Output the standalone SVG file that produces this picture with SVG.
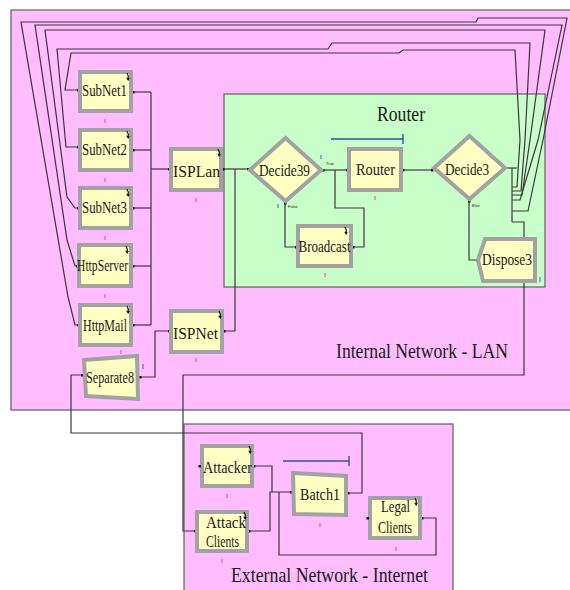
<svg xmlns="http://www.w3.org/2000/svg" xmlns:xlink="http://www.w3.org/1999/xlink" width="570" height="590" viewBox="0 0 570 590">
<style>
.region{stroke:#6a6a6a;stroke-width:1.3}
.pink{fill:#ffbdff}
.green{fill:#c8ffc8}
.mod{fill:#ffffc4;stroke:#a2a2a2;stroke-width:4}
.lbl{font-family:"Liberation Serif","Times New Roman",serif;font-size:17px;fill:#1a1a1a;text-anchor:middle}
.big{font-family:"Liberation Serif","Times New Roman",serif;font-size:21px;fill:#1a1a1a}
.tiny{font-family:"Liberation Sans",Arial,sans-serif;font-size:4px;fill:#222}
.rt{stroke:#e05070;stroke-width:1}
.bt{stroke:#4060c0;stroke-width:1}
.pt{fill:#111}
.conn path{fill:none;stroke:#3e3440;stroke-width:1.2}
.conn .s{marker-start:url(#dot)}
.conn .e{marker-end:url(#dot)}
.conn .se{marker-start:url(#dot);marker-end:url(#dot)}
.blue{fill:none;stroke:#3050a8;stroke-width:1.4}
</style>
<defs>
<marker id="dot" viewBox="0 0 4 4" refX="2" refY="2" markerWidth="3" markerHeight="3" markerUnits="userSpaceOnUse"><rect width="4" height="4" fill="#111"/></marker>
<g id="ico"><path d="M0,0 Q2,3 1.2,6.5" fill="none" stroke="#111" stroke-width="1.2"/><path d="M-0.8,4.8 L1.2,8 L2.8,5 Z" fill="#111"/></g>
</defs>
<rect width="570" height="590" fill="#ffffff"/>
<g id="lan-region"><rect class="region pink" x="11" y="10" width="570" height="400"/>
<text class="big" x="336" y="358" textLength="172" lengthAdjust="spacingAndGlyphs">Internal Network - LAN</text></g>
<g id="router-region"><rect class="region green" x="224" y="94" width="321" height="193"/>
<text class="big" x="377" y="121" font-size="22" textLength="48" lengthAdjust="spacingAndGlyphs">Router</text></g>
<g id="internet-region"><rect class="region pink" x="184" y="424" width="269" height="180"/>
<text class="big" x="231" y="582" textLength="197" lengthAdjust="spacingAndGlyphs">External Network - Internet</text></g>

<g id="connectors" class="conn">
<path class="s" d="M133,92 H151"/><path class="s" d="M133,150 H151"/><path class="s" d="M133,208 H151"/><path class="s" d="M133,266 H151"/><path class="s" d="M133,325 H151"/>
<path d="M151,92 V325"/>
<path class="e" d="M151,169 H169"/>
<path class="se" d="M223,169 H248"/>
<path class="s" d="M224,331 H235 V169"/>
<path class="se" d="M140,377 H155 V331 H169"/>
<path class="se" d="M323,170 H347"/>
<path class="s" d="M353,247 H364 V208 H335 V170"/>
<path class="se" d="M285,203 V247 H296"/>
<path class="se" d="M403,170 H432"/>
<path class="se" d="M469,201 V260 H477"/>
<path d="M507,168 H517"/>
<path d="M512,168 V222"/>
<path class="e" d="M512,222 H524 V375 H183 V531 H195"/>
<path class="se" d="M348,493 H362 V433 H71 V375 H82"/>
<path class="s" d="M254,466 H272 V492"/>
<path class="se" d="M249,531 H270 V492 H291"/>
<path class="s" d="M422,518 H436 V555 H279 V492"/>
<path class="e" d="M512,187 H517 L520,140 L515,50 H403 L399,53 H71 L65,90 H78"/>
<path class="e" d="M512,191 H521 L525,140 L530,43 H332 L328,49 H57 L66,147 H78"/>
<path class="e" d="M512,195 H522 L530,140 L545,30 H45 L67,197 L75,208 H78"/>
<path class="e" d="M512,200 H520 L538,140 L562,25 H35 L67,240 L75,266 H77"/>
<path class="e" d="M512,211 H528 L543,140 L567,18 H478 L476,22 H21 L68,297 L75,325 H78"/>
</g>

<path class="blue" d="M331,139 H403 M403,134 V144"/>
<path class="blue" d="M283,461 H349 M349,456 V466"/>

<g id="subnet1"><rect class="mod" x="80" y="72" width="51" height="39"/><text class="lbl" x="104.5" y="96" textLength="45" lengthAdjust="spacingAndGlyphs">SubNet1</text><use href="#ico" x="127" y="73"/><path class="rt" d="M105,119 v4"/></g>
<g id="subnet2"><rect class="mod" x="80" y="130" width="51" height="40"/><text class="lbl" x="104.5" y="155" textLength="45" lengthAdjust="spacingAndGlyphs">SubNet2</text><use href="#ico" x="127" y="131"/><path class="rt" d="M105,178 v4"/></g>
<g id="subnet3"><rect class="mod" x="80" y="188" width="51" height="40"/><text class="lbl" x="104.5" y="213" textLength="45" lengthAdjust="spacingAndGlyphs">SubNet3</text><use href="#ico" x="127" y="189"/><path class="rt" d="M105,236 v4"/></g>
<g id="httpserver"><rect class="mod" x="79" y="245" width="52" height="41"/><text class="lbl" x="102.5" y="271" textLength="51" lengthAdjust="spacingAndGlyphs">HttpServer</text><use href="#ico" x="126" y="246"/><path class="rt" d="M105,294 v4"/></g>
<g id="httpmail"><rect class="mod" x="80" y="305" width="51" height="40"/><text class="lbl" x="105" y="331" textLength="44" lengthAdjust="spacingAndGlyphs">HttpMail</text><use href="#ico" x="127" y="306"/><path class="rt" d="M121,350 v4"/></g>
<g id="separate8"><polygon class="mod" points="84,360 137,356 138,399 86,396"/><text class="lbl" x="110" y="383" textLength="48" lengthAdjust="spacingAndGlyphs">Separate8</text><path class="bt" d="M143,364 v5"/></g>
<g id="isplan"><rect class="mod" x="171" y="149" width="50" height="41"/><text class="lbl" x="196.5" y="177" font-size="19" textLength="47" lengthAdjust="spacingAndGlyphs">ISPLan</text><use href="#ico" x="218" y="149"/><path class="rt" d="M196,198 v4"/></g>
<g id="ispnet"><rect class="mod" x="171" y="311" width="51" height="41"/><text class="lbl" x="195.5" y="339" font-size="19" textLength="45" lengthAdjust="spacingAndGlyphs">ISPNet</text><use href="#ico" x="219" y="311"/><path class="rt" d="M196,358 v4"/></g>
<g id="decide39"><polygon class="mod" points="285.5,138 321,170 285.5,201 250,170"/><text class="lbl" x="284.5" y="176" textLength="51" lengthAdjust="spacingAndGlyphs">Decide39</text><text class="tiny" x="326" y="165">True</text><text class="tiny" x="288" y="208">False</text><path class="bt" d="M321,155 v4 M278,204 v4"/></g>
<g id="router"><rect class="mod" x="349" y="149" width="52" height="41"/><text class="lbl" x="375.5" y="175" textLength="39" lengthAdjust="spacingAndGlyphs">Router</text><path class="rt" d="M375,196 v4"/></g>
<g id="broadcast"><rect class="mod" x="298" y="226" width="53" height="40"/><text class="lbl" x="324.5" y="252" textLength="52" lengthAdjust="spacingAndGlyphs">Broadcast</text><use href="#ico" x="345" y="227"/><path class="rt" d="M325,273 v4"/></g>
<g id="decide3"><polygon class="mod" points="469.5,136 505,168 469.5,199 434,168"/><text class="lbl" x="467" y="175" textLength="44" lengthAdjust="spacingAndGlyphs">Decide3</text><text class="tiny" x="472" y="207">Else</text></g>
<g id="dispose3"><polygon class="mod" points="485,239 535,239 535,281 483,281 478,260"/><text class="lbl" x="507" y="265" textLength="50" lengthAdjust="spacingAndGlyphs">Dispose3</text><path class="bt" d="M540,277 v5"/></g>
<g id="attacker"><rect class="mod" x="202" y="446" width="50" height="40"/><text class="lbl" x="227.5" y="473" textLength="49" lengthAdjust="spacingAndGlyphs">Attacker</text><use href="#ico" x="249" y="446"/><rect class="pt" x="198.5" y="465" width="2.5" height="2.5"/><path class="rt" d="M227,494 v4"/></g>
<g id="attack-clients"><rect class="mod" x="197" y="512" width="50" height="39"/><text class="lbl" x="226" y="528" font-size="16" textLength="40" lengthAdjust="spacingAndGlyphs">Attack</text><text class="lbl" x="222.5" y="547" font-size="16" textLength="33" lengthAdjust="spacingAndGlyphs">Clients</text><use href="#ico" x="244" y="512"/><path class="rt" d="M222,559 v4"/></g>
<g id="batch1"><polygon class="mod" points="293,473 346,476 346,515 294,514"/><text class="lbl" x="320" y="500" textLength="40" lengthAdjust="spacingAndGlyphs">Batch1</text><path class="rt" d="M320,523 v4"/></g>
<g id="legal-clients"><rect class="mod" x="370" y="498" width="50" height="40"/><text class="lbl" x="395.5" y="512" font-size="16" textLength="29" lengthAdjust="spacingAndGlyphs">Legal</text><text class="lbl" x="395" y="533" font-size="16" textLength="34" lengthAdjust="spacingAndGlyphs">Clients</text><use href="#ico" x="415" y="498"/><rect class="pt" x="366.5" y="517" width="2.5" height="2.5"/><path class="rt" d="M396,547 v4"/></g>
</svg>
